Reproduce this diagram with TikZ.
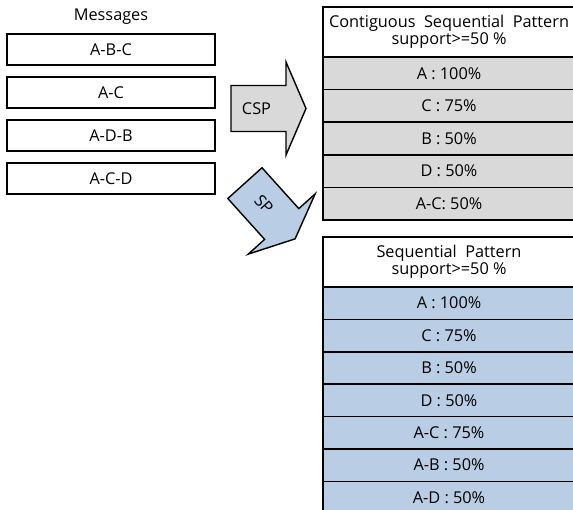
\documentclass[tikz,border=0pt]{standalone}
\usepackage{fontspec}
\setmainfont{Open Sans}
\begin{document}
\begin{tikzpicture}[x=1pt,y=-1pt,
  every node/.style={font=\fontsize{16.3}{18.5}\selectfont, inner sep=0pt},
  msgbox/.style={draw=black, line width=1.6pt, minimum width=208pt, minimum height=31pt},
  headbox/.style={draw=black, line width=1.6pt, fill=white, minimum width=252pt, minimum height=50pt, align=center},
  graycell/.style={draw=black, line width=1.6pt, fill=cellgray, minimum width=252pt, minimum height=32.6pt},
  bluecell/.style={draw=black, line width=1.6pt, fill=cellblue, minimum width=252pt, minimum height=32.4pt},
  bigarrow/.style={draw=black, line width=1.4pt, line join=miter},
]
\definecolor{cellgray}{HTML}{D9D9D9}
\definecolor{cellblue}{HTML}{B9CDE5}
\useasboundingbox (0,0) rectangle (573,510);
\clip (0,0) rectangle (573,510);

% message list
\node (msgtitle) at (111,17) {Messages};
\node[msgbox] (m1) at (111,49.5) {A-B-C};
\node[msgbox] (m2) at (111,92.5) {A-C};
\node[msgbox] (m3) at (111,135.5) {A-D-B};
\node[msgbox] (m4) at (111,178.5) {A-C-D};

% contiguous sequential pattern table
\node[headbox] (cspHead) at (449,32) {Contiguous\ \ Sequential\ \ Pattern\\[-2pt]support>=50\ \%};
\foreach \lbl [count=\i from 0] in {A : 100\%, C : 75\%, B : 50\%, D : 50\%, A-C: 50\%} {
  \node[graycell] (cspRow\i) at (449,{73.3+32.6*\i}) {\lbl};
}

% sequential pattern table
\node[headbox] (spHead) at (449,262) {Sequential\ \ Pattern\\[-2pt]support>=50\ \%};
\foreach \lbl [count=\i from 0] in {A : 100\%, C : 75\%, B : 50\%, D : 50\%, A-C : 75\%, A-B : 50\%, A-D : 50\%} {
  \node[bluecell] (spRow\i) at (449,{303.2+32.4*\i}) {\lbl};
}

% CSP block arrow
\begin{scope}[shift={(268.5,108.5)}]
  \draw[bigarrow, fill=cellgray]
    (-37.5,-23) -- (17.5,-23) -- (17.5,-46.5) -- (37.5,0) -- (17.5,46.5) -- (17.5,23) -- (-37.5,23) -- cycle;
  \node (cspLabel) at (-12,0) {CSP};
\end{scope}

% SP block arrow, turned down to the right
\begin{scope}[shift={(270,211)}, rotate=-48]
  \draw[bigarrow, fill=cellblue]
    (-37.5,-23) -- (17.5,-23) -- (17.5,-45) -- (37.5,0) -- (17.5,45) -- (17.5,23) -- (-37.5,23) -- cycle;
  \node[rotate=-48] (spLabel) at (-9,0) {SP};
\end{scope}
\end{tikzpicture}
\end{document}
